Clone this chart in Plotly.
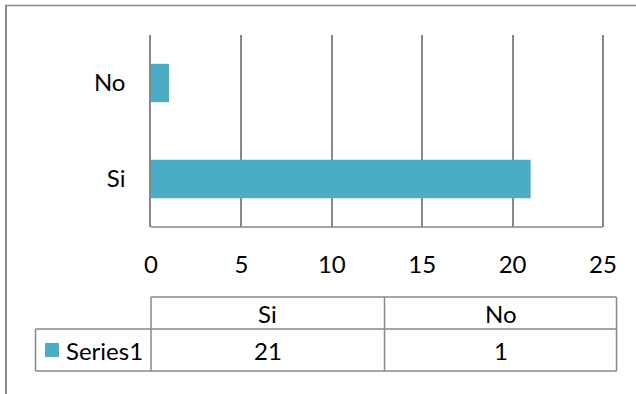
import plotly.graph_objects as go

# Chart data
categories = ["Si", "No"]
values = [21, 1]
series_name = "Series1"
x_ticks = [0, 5, 10, 15, 20, 25]

W, H = 636, 394
BAR_COLOR = "#4BACC6"
LINE_COLOR = "#888888"
FONT = "Lato"
FSIZE = 24

# Plot area in pixels; the axis runs a hair past 25 so the last grid line shows
X0_PX, X25_PX = 151, 603
X_MAX = 25.06
X_END_PX = X0_PX + (X25_PX - X0_PX) * X_MAX / 25


def px(x):
    return x / W


def py(y):
    return 1 - y / H


fig = go.Figure(
    go.Bar(
        y=categories,
        x=values,
        orientation="h",
        marker=dict(color=BAR_COLOR, line=dict(width=0)),
        width=0.4,
        name=series_name,
        hoverinfo="x+y",
    )
)

fig.update_layout(
    width=W,
    height=H,
    margin=dict(l=0, r=0, t=0, b=0, autoexpand=False),
    paper_bgcolor="white",
    plot_bgcolor="white",
    showlegend=False,
    font=dict(family=FONT, size=FSIZE, color="#000000"),
    xaxis=dict(
        domain=[px(X0_PX), px(X_END_PX)],
        range=[0, X_MAX],
        tickvals=x_ticks,
        ticktext=[str(t) for t in x_ticks],
        showgrid=True,
        gridcolor=LINE_COLOR,
        gridwidth=1.5,
        showline=False,
        zeroline=False,
        ticks="",
        ticklabelstandoff=21,
        automargin=False,
        fixedrange=True,
    ),
    yaxis=dict(
        domain=[py(227), py(35)],
        categoryorder="array",
        categoryarray=categories,
        range=[-0.5, 1.5],
        showgrid=False,
        showline=True,
        linecolor=LINE_COLOR,
        linewidth=1.5,
        zeroline=False,
        ticks="",
        ticklabelstandoff=19,
        automargin=False,
        fixedrange=True,
    ),
)

shapes = []
annotations = []


def hline(x0, x1, y, width=1.5):
    shapes.append(dict(type="line", xref="paper", yref="paper",
                       x0=px(x0), x1=px(x1), y0=py(y), y1=py(y),
                       line=dict(color=LINE_COLOR, width=width)))


def vline(x, y0, y1, width=1.5):
    shapes.append(dict(type="line", xref="paper", yref="paper",
                       x0=px(x), x1=px(x), y0=py(y0), y1=py(y1),
                       line=dict(color=LINE_COLOR, width=width)))


# Horizontal axis line, from 0 to 25
shapes.append(dict(type="line", xref="x", yref="paper",
                   x0=0, x1=x_ticks[-1], y0=py(227), y1=py(227),
                   line=dict(color=LINE_COLOR, width=1.5)))

# Outer frame (top and left edges)
hline(5, W, 5.5, 1.5)
vline(6, 5, H, 2)

# Data table under the axis
tbl_left, tbl_x0, tbl_x1 = 35.5, 151, 616.5
row_top, row_mid, row_bot = 297, 329, 371
col_edges = [tbl_x0, 384.5, tbl_x1]

hline(tbl_x0, tbl_x1, row_top)
hline(tbl_left, tbl_x1, row_mid)
hline(tbl_left, tbl_x1, row_bot)
vline(tbl_left, row_mid, row_bot)
for xe in col_edges:
    vline(xe, row_top, row_bot)

# One table column per category: header is the category, body is its value
for i, (cat, val) in enumerate(zip(categories, values)):
    cx = (col_edges[i] + col_edges[i + 1]) / 2
    annotations.append(dict(xref="paper", yref="paper", x=px(cx),
                            y=py((row_top + row_mid) / 2), text=cat,
                            showarrow=False, xanchor="center", yanchor="middle",
                            font=dict(family=FONT, size=FSIZE)))
    annotations.append(dict(xref="paper", yref="paper", x=px(cx),
                            y=py((row_mid + row_bot) / 2), text=str(val),
                            showarrow=False, xanchor="center", yanchor="middle",
                            font=dict(family=FONT, size=FSIZE)))

# Legend key in the table row header
shapes.append(dict(type="rect", xref="paper", yref="paper",
                   x0=px(45), x1=px(59), y0=py(357), y1=py(343),
                   fillcolor=BAR_COLOR, line=dict(width=0)))
annotations.append(dict(xref="paper", yref="paper", x=px(64),
                        y=py((row_mid + row_bot) / 2), text=series_name,
                        showarrow=False, xanchor="left", yanchor="middle",
                        font=dict(family=FONT, size=FSIZE)))

fig.update_layout(shapes=shapes, annotations=annotations)

fig.write_html("out.html")
